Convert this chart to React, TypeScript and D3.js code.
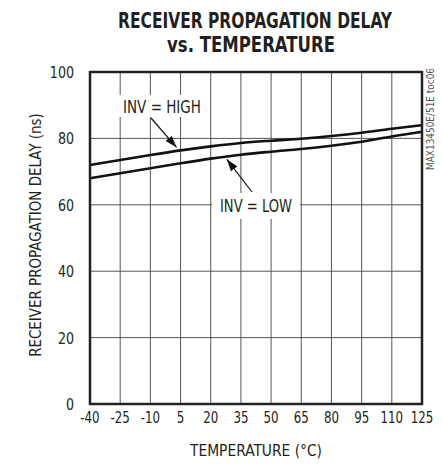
import React, { useEffect, useRef } from 'react';
import * as d3 from 'd3';

const temps = [-40, -25, -10, 5, 20, 35, 50, 65, 80, 95, 110, 125];
const invHigh = [72, 73.5, 75, 76.4, 77.6, 78.6, 79.3, 79.9, 80.7, 81.7, 82.9, 84];
const invLow = [68, 69.5, 71, 72.5, 73.9, 75.1, 76, 76.8, 77.8, 79, 80.6, 82];
const yTicks = [0, 20, 40, 60, 80, 100];

const FONT = "'DejaVu Sans Condensed', 'Liberation Sans Narrow', 'Roboto', sans-serif";

const App: React.FC = () => {
  const svgRef = useRef<SVGSVGElement>(null);

  useEffect(() => {
    if (!svgRef.current) return;
    const svg = d3.select(svgRef.current);
    svg.selectAll('*').remove();

    const left = 90, right = 422, top = 72, bottom = 404;

    const x = d3.scaleLinear().domain([-40, 125]).range([left, right]);
    const y = d3.scaleLinear().domain([0, 100]).range([bottom, top]);

    svg.append('rect').attr('width', 443).attr('height', 464).attr('fill', '#fff');

    // squeeze a text horizontally to a target width around its anchor
    const squeeze = (sel: d3.Selection<SVGTextElement, unknown, null, undefined>, cx: number, cy: number, w: number) => {
      const len = (sel.node() as SVGTextElement).getComputedTextLength() || w;
      sel.attr('transform', `translate(${cx},${cy}) scale(${w / len},1)`);
    };

    // Title
    const title = svg.append('g')
      .attr('font-family', FONT)
      .attr('font-weight', 'bold')
      .attr('font-size', 22)
      .attr('text-anchor', 'middle')
      .attr('fill', '#231f20');
    squeeze(title.append('text').text('RECEIVER PROPAGATION DELAY'), 255, 28, 274);
    squeeze(title.append('text').text('vs. TEMPERATURE'), 251, 52, 168);

    // Grid
    const grid = svg.append('g').attr('stroke', '#555').attr('stroke-width', 1);
    temps.slice(1, -1).forEach(t => {
      grid.append('line')
        .attr('x1', x(t)).attr('x2', x(t))
        .attr('y1', top).attr('y2', bottom);
    });
    yTicks.slice(1, -1).forEach(v => {
      grid.append('line')
        .attr('x1', left).attr('x2', right)
        .attr('y1', y(v)).attr('y2', y(v));
    });

    // Data lines
    const line = d3.line<number>()
      .x((d, i) => x(temps[i]))
      .y(d => y(d))
      .curve(d3.curveMonotoneX);

    [invHigh, invLow].forEach(s => {
      svg.append('path')
        .datum(s)
        .attr('fill', 'none')
        .attr('stroke', '#111')
        .attr('stroke-width', 2.6)
        .attr('d', line);
    });

    // Frame
    svg.append('rect')
      .attr('x', left).attr('y', top)
      .attr('width', right - left).attr('height', bottom - top)
      .attr('fill', 'none')
      .attr('stroke', '#222')
      .attr('stroke-width', 2.5);

    // Tick labels (narrowed to mimic a condensed face)
    const labels = svg.append('g')
      .attr('font-family', FONT)
      .attr('font-size', 16)
      .attr('fill', '#231f20');
    yTicks.forEach(v => {
      labels.append('text')
        .attr('transform', `translate(74,${y(v) + 6}) scale(0.88,1)`)
        .attr('text-anchor', 'end')
        .text(v);
    });
    temps.forEach(t => {
      labels.append('text')
        .attr('transform', `translate(${x(t)},423) scale(0.82,1)`)
        .attr('text-anchor', 'middle')
        .text(t);
    });
    squeeze(labels.append('text').attr('text-anchor', 'middle').text('TEMPERATURE (°C)'), 256, 456, 132);
    const yTitle = labels.append('text').attr('text-anchor', 'middle').text('RECEIVER PROPAGATION DELAY (ns)');
    const yLen = (yTitle.node() as SVGTextElement).getComputedTextLength() || 244;
    yTitle.attr('transform', `translate(41,235) rotate(-90) scale(${244 / yLen},1)`);

    // Side label
    const side = svg.append('text')
      .attr('text-anchor', 'end')
      .attr('font-family', FONT)
      .attr('font-size', 10)
      .attr('fill', '#555')
      .text('MAX13450E/51E toc06');
    const sLen = (side.node() as SVGTextElement).getComputedTextLength() || 102;
    side.attr('transform', `translate(434,68) rotate(-90) scale(${102 / sLen},1)`);

    // Annotations
    const defs = svg.append('defs');
    defs.append('marker')
      .attr('id', 'arrow')
      .attr('viewBox', '0 0 12 8')
      .attr('refX', 12).attr('refY', 4)
      .attr('markerWidth', 12).attr('markerHeight', 8)
      .attr('markerUnits', 'userSpaceOnUse')
      .attr('orient', 'auto')
      .append('path')
      .attr('d', 'M0,0 L12,4 L0,8 Z')
      .attr('fill', '#111');

    const ann = svg.append('g').attr('font-family', FONT).attr('font-size', 17).attr('fill', '#231f20');
    ann.append('rect')
      .attr('x', 119).attr('y', 95).attr('width', 88).attr('height', 22)
      .attr('fill', '#fff');
    squeeze(ann.append('text').attr('text-anchor', 'middle').text('INV = HIGH'), 162, 113, 78);
    svg.append('line')
      .attr('x1', 151).attr('y1', 118)
      .attr('x2', x(3)).attr('y2', y(invHigh[3]) - 3)
      .attr('stroke', '#111').attr('stroke-width', 1.2)
      .attr('marker-end', 'url(#arrow)');

    ann.append('rect')
      .attr('x', 212).attr('y', 193).attr('width', 88).attr('height', 26)
      .attr('fill', '#fff');
    squeeze(ann.append('text').attr('text-anchor', 'middle').text('INV = LOW'), 256, 212, 72);
    svg.append('line')
      .attr('x1', 252).attr('y1', 192)
      .attr('x2', x(28)).attr('y2', y(74.6) + 3)
      .attr('stroke', '#111').attr('stroke-width', 1.2)
      .attr('marker-end', 'url(#arrow)');
  }, []);

  return <svg ref={svgRef} width={443} height={464} style={{ display: 'block', position: 'absolute', left: 0, top: 0 }} />;
};

export default App;
